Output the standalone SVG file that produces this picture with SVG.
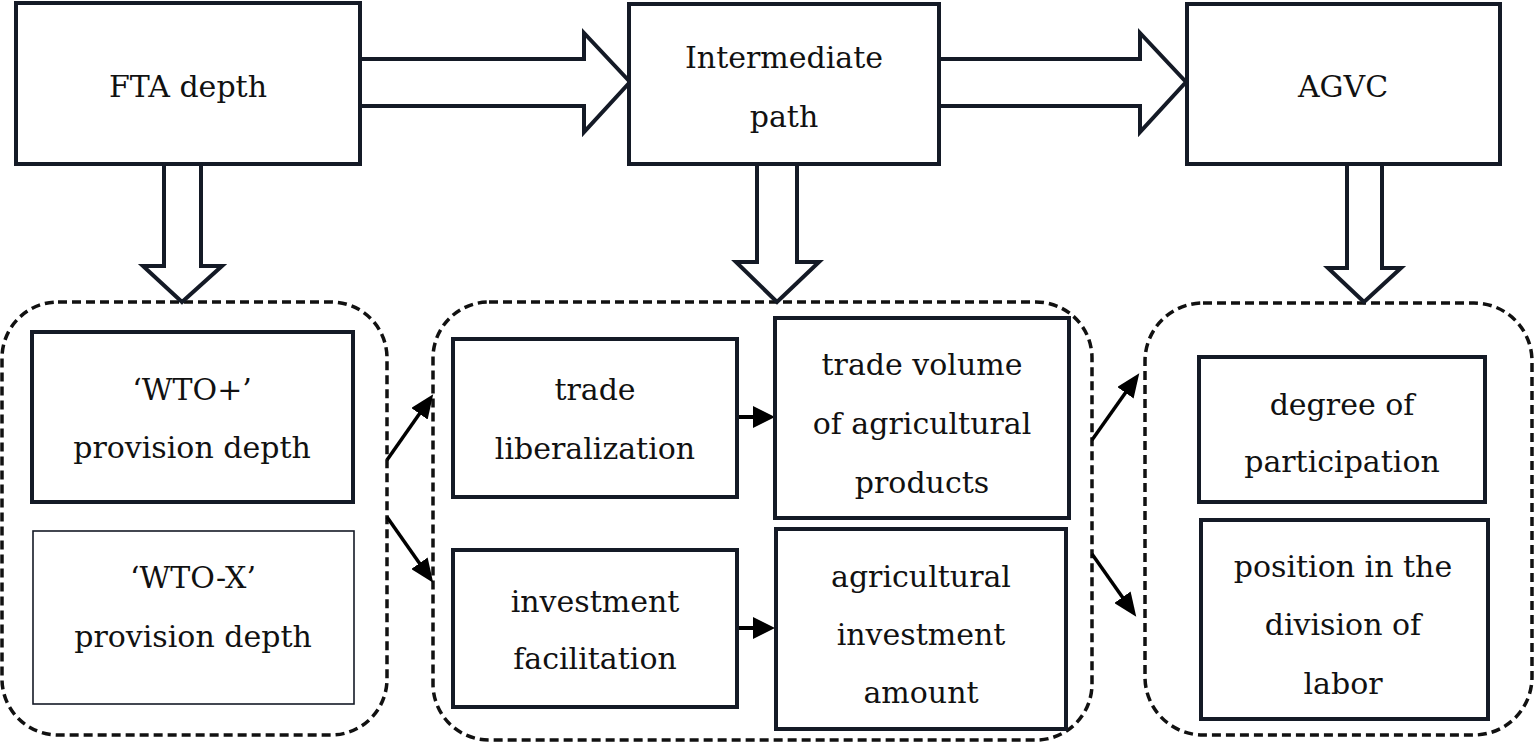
<svg xmlns="http://www.w3.org/2000/svg" width="1535" height="743" viewBox="0 0 1535 743">
<defs>
<style>
.box{fill:#fff;stroke:#141a26;stroke-width:4}
.thin{fill:#fff;stroke:#141a26;stroke-width:1.6}
.cont{fill:none;stroke:#111;stroke-width:3.5;stroke-dasharray:9 5}
.big{fill:#fff;stroke:#141a26;stroke-width:4;stroke-linejoin:miter}
.ln{fill:none;stroke:#000;stroke-width:4}
.dg{fill:none;stroke:#000;stroke-width:3.5}
text{font-family:"DejaVu Serif","Liberation Serif",serif;font-size:30px;fill:#111;text-anchor:middle}
</style>
<marker id="h1" viewBox="0 0 22 22" refX="1" refY="11" markerWidth="22" markerHeight="22" markerUnits="userSpaceOnUse" orient="auto"><path d="M0,0 L22,11 L0,22 z" fill="#000"/></marker>
<marker id="h2" viewBox="0 0 24 20" refX="1" refY="10" markerWidth="24" markerHeight="20" markerUnits="userSpaceOnUse" orient="auto"><path d="M0,0 L24,10 L0,20 z" fill="#000"/></marker>
</defs>
<rect width="1535" height="743" fill="#fff"/>

<g id="containers">
<rect class="cont" x="2" y="302" width="385" height="433" rx="56" ry="56"/>
<rect class="cont" x="433" y="302" width="659" height="438" rx="56" ry="56"/>
<rect class="cont" x="1145" y="303" width="387" height="432" rx="58" ry="58"/>
</g>

<g id="connectors">
<polygon class="big" points="360,59 584,59 584,33 630,82 584,132 584,106 360,106"/>
<polygon class="big" points="939,59 1140,59 1140,33 1186,82 1140,132 1140,106 939,106"/>
<polygon class="big" points="164,164 164,266 143,266 182,302 222,266 201,266 201,164"/>
<polygon class="big" points="757,164 757,262 736,262 777,302 819,262 797,262 797,164"/>
<polygon class="big" points="1347,164 1347,268 1328,268 1364,302 1401,268 1382,268 1382,164"/>
<line class="ln" x1="737" y1="417" x2="754" y2="417" marker-end="url(#h1)"/>
<line class="ln" x1="737" y1="628" x2="754" y2="628" marker-end="url(#h1)"/>
<line class="dg" x1="387" y1="460" x2="420" y2="413" marker-end="url(#h2)"/>
<line class="dg" x1="387" y1="517" x2="420" y2="564" marker-end="url(#h2)"/>
<line class="dg" x1="1092" y1="440" x2="1126" y2="392" marker-end="url(#h2)"/>
<line class="dg" x1="1092" y1="554" x2="1123" y2="598" marker-end="url(#h2)"/>
</g>

<g id="fta">
<rect class="box" x="16" y="3" width="344" height="161"/>
<text x="188" y="97">FTA depth</text>
</g>
<g id="intermediate">
<rect class="box" x="629" y="4" width="310" height="160"/>
<text x="784" y="68">Intermediate</text>
<text x="784" y="127">path</text>
</g>
<g id="agvc">
<rect class="box" x="1187" y="4" width="313" height="160"/>
<text x="1343" y="97">AGVC</text>
</g>

<g id="wto-plus">
<rect class="box" x="32" y="332" width="321" height="170"/>
<text x="192" y="400">‘WTO+’</text>
<text x="192" y="458">provision depth</text>
</g>
<g id="wto-x">
<rect class="thin" x="33" y="531" width="321" height="173"/>
<text x="193" y="588">‘WTO-X’</text>
<text x="193" y="647">provision depth</text>
</g>

<g id="trade-lib">
<rect class="box" x="453" y="339" width="284" height="158"/>
<text x="595" y="400">trade</text>
<text x="595" y="459">liberalization</text>
</g>
<g id="trade-vol">
<rect class="box" x="775" y="318" width="294" height="200"/>
<text x="922" y="375">trade volume</text>
<text x="922" y="434">of agricultural</text>
<text x="922" y="493">products</text>
</g>
<g id="invest-fac">
<rect class="box" x="453" y="550" width="284" height="157"/>
<text x="595" y="612">investment</text>
<text x="595" y="669">facilitation</text>
</g>
<g id="agri-invest">
<rect class="box" x="776" y="529" width="290" height="200"/>
<text x="921" y="587">agricultural</text>
<text x="921" y="645">investment</text>
<text x="921" y="703">amount</text>
</g>

<g id="participation">
<rect class="box" x="1199" y="357" width="286" height="145"/>
<text x="1342" y="415">degree of</text>
<text x="1342" y="472">participation</text>
</g>
<g id="position">
<rect class="box" x="1201" y="520" width="287" height="199"/>
<text x="1343" y="577">position in the</text>
<text x="1343" y="635">division of</text>
<text x="1343" y="694">labor</text>
</g>
</svg>
